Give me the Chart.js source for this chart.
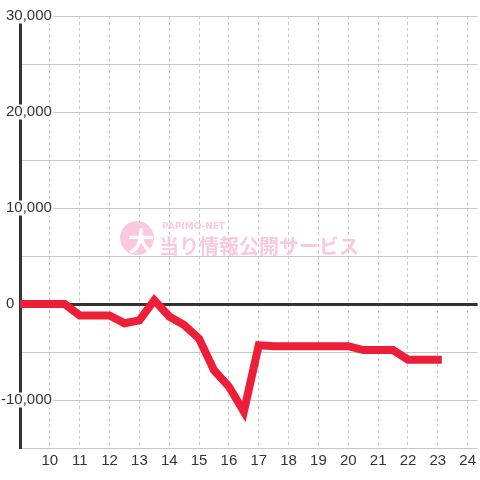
<!DOCTYPE html>
<html>
<head>
<meta charset="utf-8">
<script src="https://cdn.jsdelivr.net/npm/chart.js"></script>
<style>
  html, body { margin: 0; padding: 0; background: #fff; }
  #wrap { width: 480px; height: 480px; }
</style>
</head>
<body>
<div id="wrap"><canvas id="myChart"></canvas></div>
<script>
// hour of day, every half hour
let hours = [9, 9.5, 10, 10.5, 11, 11.5, 12, 12.5, 13, 13.5, 14, 14.5, 15, 15.5, 16,
             16.5, 17, 17.5, 18, 18.5, 19, 19.5, 20, 20.5, 21, 21.5, 22, 22.5, 23];
// balance
let balance = [0, 0, 0, 0, -1200, -1200, -1200, -2000, -1700, 400, -1300, -2200, -3600, -6900, -8600,
               -11200, -4300, -4400, -4400, -4400, -4400, -4400, -4400, -4800, -4800, -4800, -5800, -5800, -5800];
let xTicks = [10, 11, 12, 13, 14, 15, 16, 17, 18, 19, 20, 21, 22, 23, 24];
let yLabels = [30000, 20000, 10000, 0, -10000];

const pink = 'rgba(249, 188, 213, 0.8)';

const watermark = {
    id: 'watermark',
    beforeDatasetsDraw(chart) {
        const c = chart.ctx;
        c.save();
        c.fillStyle = pink;
        c.beginPath();
        c.arc(137, 238, 17, 0, Math.PI * 2);
        c.fill();
        c.fillStyle = '#fff';
        c.font = 'bold 26px "Noto Sans CJK JP"';
        c.textAlign = 'center';
        c.textBaseline = 'middle';
        c.fillText('大', 141, 241);
        c.fillStyle = pink;
        c.textAlign = 'left';
        c.font = 'bold 20px "Noto Sans CJK JP"';
        c.fillText('当り情報公開サービス', 159, 246);
        c.font = 'bold 9px "DejaVu Sans"';
        c.fillText('PAPIMO-NET', 162, 227);
        c.restore();
    }
};

let ctx = document.getElementById('myChart').getContext('2d');

let myChart = new Chart(ctx, {
    type: 'line',
    data: {
        datasets: [{
            label: 'balance',
            data: hours.map((h, i) => ({ x: h, y: balance[i] })),
            borderColor: 'rgb(237, 30, 56)',
            borderWidth: 8,
            borderCapStyle: 'square',
            pointRadius: 0,
            tension: 0,
            fill: false
        }]
    },
    options: {
        responsive: true,
        maintainAspectRatio: false,
        animation: false,
        layout: { padding: { top: 16, right: 0, left: 0, bottom: 0 } },
        plugins: {
            legend: { display: false },
            tooltip: { enabled: false }
        },
        scales: {
            x: {
                type: 'linear',
                min: 9,
                max: 24.333,
                afterBuildTicks: s => { s.ticks = xTicks.map(v => ({ value: v })); },
                afterFit: s => { s.height = 32; },
                grid: { color: '#c8c8c8', lineWidth: 1, drawTicks: false },
                border: { display: false, dash: [3, 3] },
                ticks: {
                    color: '#333',
                    font: { family: 'Liberation Sans, Arial', size: 15 },
                    padding: 4,
                    maxRotation: 0,
                    autoSkip: false
                }
            },
            y: {
                min: -15000,
                max: 30000,
                afterFit: s => { s.width = 20; },
                grid: {
                    color: c => c.tick.value === 0 ? '#333' : '#c8c8c8',
                    lineWidth: c => c.tick.value === 0 ? 3 : 1,
                    drawTicks: false
                },
                border: { display: true, color: '#333', width: 3 },
                ticks: {
                    stepSize: 5000,
                    color: '#333',
                    font: { family: 'Liberation Sans, Arial', size: 15, lineHeight: 1 },
                    mirror: true,
                    crossAlign: 'far',
                    padding: -19,
                    showLabelBackdrop: c => yLabels.includes(c.tick.value) && c.tick.value !== 0,
                    backdropColor: '#fff',
                    backdropPadding: { x: 1, y: 0 },
                    // the zero label sits left of the axis in the original
                    callback: v => v === 0 ? '0         ' : (yLabels.includes(v) ? v.toLocaleString('en-US') : '')
                }
            }
        }
    },
    plugins: [watermark]
});
</script>
</body>
</html>
